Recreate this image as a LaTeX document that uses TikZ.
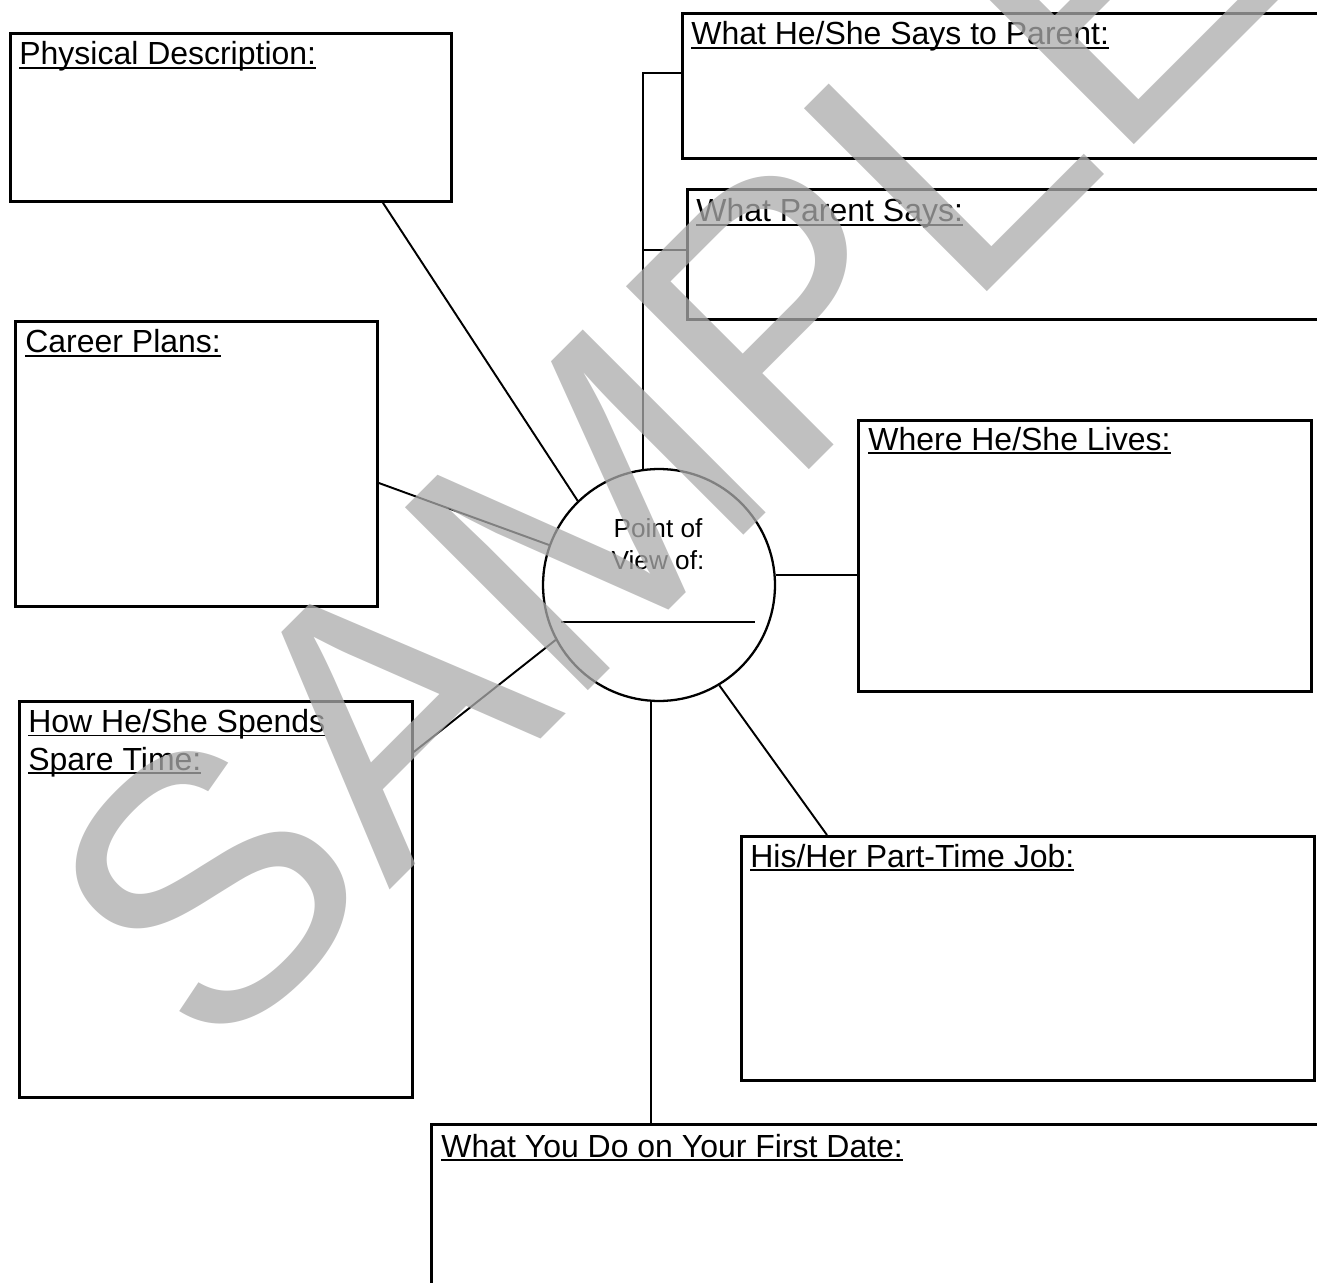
\documentclass[tikz,border=0pt]{standalone}
\usepackage{fontspec}
\setmainfont{Liberation Sans}
\usetikzlibrary{calc}
\newcommand\ulbox[1]{\setbox0\hbox{#1}\rlap{\rule[-2.4pt]{\wd0}{1pt}}\box0}
\tikzset{
  box/.style={draw, line width=1.6pt, anchor=north west, inner sep=0pt},
  title/.style={anchor=base west, inner sep=0pt, align=left, font=\fontsize{18.2}{21.6}\selectfont},
  link/.style={line width=1.1pt},
  pov/.style={circle, draw, line width=1.3pt, minimum size=4.64cm, inner sep=0pt}
}

\begin{document}
\begin{tikzpicture}[x=0.02cm, y=-0.02cm]
  \clip (0,0) rectangle (1317,1283);

  % boxes round the circle
  \node[box, minimum width=8.82cm, minimum height=3.36cm] (phys) at (9,32) {};
  \node[box, minimum width=14cm, minimum height=2.90cm] (says) at (681,12) {};
  \node[box, minimum width=14cm, minimum height=2.60cm] (parent) at (686,188) {};
  \node[box, minimum width=7.24cm, minimum height=5.70cm] (career) at (14,320) {};
  \node[box, minimum width=9.06cm, minimum height=5.42cm] (lives) at (857,419) {};
  \node[box, minimum width=7.86cm, minimum height=7.92cm] (spare) at (18,700) {};
  \node[box, minimum width=11.46cm, minimum height=4.88cm] (job) at (740,835) {};
  \node[box, minimum width=19cm, minimum height=4cm] (date) at (430,1123) {};

  \node[title] at ([shift={(10,33)}]phys.north west) {\ulbox{Physical Description:}};
  \node[title] at ([shift={(10,33)}]says.north west) {\ulbox{What He/She Says to Parent:}};
  \node[title] at ([shift={(10,34)}]parent.north west) {\ulbox{What Parent Says:}};
  \node[title] at ([shift={(11,33)}]career.north west) {\ulbox{Career Plans:}};
  \node[title] at ([shift={(11,31)}]lives.north west) {\ulbox{Where He/She Lives:}};
  \node[title] at ([shift={(10,70)}]spare.north west) {\ulbox{How He/She Spends}\\\ulbox{Spare Time:}};
  \node[title] at ([shift={(10,32)}]job.north west) {\ulbox{His/Her Part-Time Job:}};
  \node[title] at ([shift={(11,34)}]date.north west) {\ulbox{What You Do on Your First Date:}};

  % centre
  \node[pov] (pov) at (659,585) {};
  \node[align=center, inner sep=0pt, font=\fontsize{14.9}{18.2}\selectfont] (povtext) at (658,544) {Point of\\View of:};
  \draw[link] ([shift={(-98,37)}]pov.center) -- ([shift={(96,37)}]pov.center);

  % connectors
  \coordinate (saysin) at ([yshift=-1.22cm]says.north west);
  \coordinate (parentin) at ([yshift=-1.24cm]parent.north west);
  \draw[link] (pov.98) |- (saysin);
  \draw[link] (pov.98 |- parentin) -- (parentin);
  \draw[link] ([xshift=7.48cm]phys.south west) -- (pov.134);
  \draw[link] ([yshift=-3.26cm]career.north east) -- (pov.160);
  \draw[link] ([yshift=-1.04cm]spare.north east) -- (pov.208);
  \draw[link] (pov.5) -- (pov.5 -| lives.west);
  \draw[link] (pov.-59) -- ([xshift=1.74cm]job.north west);
  \draw[link] (pov.-94) -- (pov.-94 |- date.north);

  % watermark
  \node[rotate=45, anchor=base, inner sep=0pt, font=\fontsize{214}{214}\selectfont,
    text=black!33, text opacity=0.75] (mark) at (751,528) {SAMPLE};
\end{tikzpicture}
\end{document}
